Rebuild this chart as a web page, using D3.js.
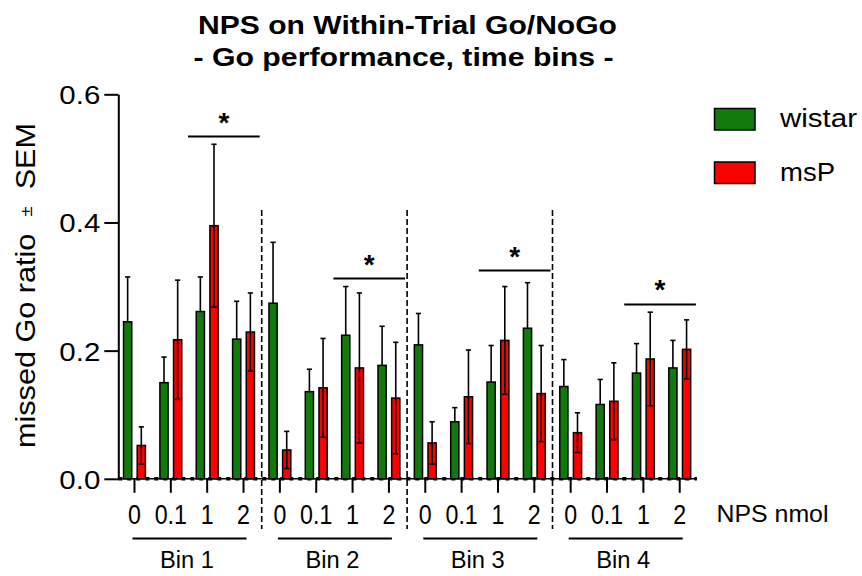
<!DOCTYPE html>
<html>
<head>
<meta charset="utf-8">
<script src="https://cdn.jsdelivr.net/npm/d3@7/dist/d3.min.js"></script>
<style>
  html, body { margin: 0; padding: 0; background: #fff; }
  svg text { font-family: Arial, "Liberation Sans", Helvetica, sans-serif; fill: #000; }
</style>
</head>
<body>
<svg id="chart" width="862" height="576"></svg>
<script>
// ---- data ----
const bins = ["Bin 1", "Bin 2", "Bin 3", "Bin 4"];
const doses = ["0", "0.1", "1", "2"];
const strains = ["wistar", "msP"];

// mean missed Go ratio per bin x dose (bins in order, doses 0, 0.1, 1, 2)
const wistarMean = [0.245, 0.150, 0.261, 0.218,
                    0.274, 0.136, 0.224, 0.177,
                    0.209, 0.089, 0.151, 0.235,
                    0.144, 0.116, 0.165, 0.173];
const wistarSem  = [0.070, 0.040, 0.054, 0.059,
                    0.095, 0.035, 0.076, 0.061,
                    0.049, 0.022, 0.057, 0.071,
                    0.042, 0.039, 0.046, 0.043];
const msPMean    = [0.052, 0.217, 0.395, 0.229,
                    0.045, 0.142, 0.173, 0.126,
                    0.056, 0.128, 0.216, 0.133,
                    0.072, 0.121, 0.187, 0.202];
const msPSem     = [0.029, 0.093, 0.127, 0.061,
                    0.029, 0.077, 0.117, 0.087,
                    0.033, 0.073, 0.084, 0.075,
                    0.031, 0.060, 0.073, 0.046];

const yTicks = [0, 0.2, 0.4, 0.6];

// significance brackets: each spans the 1 and 2 nmol groups of a bin
const sigBins = ["Bin 1", "Bin 2", "Bin 3", "Bin 4"];
const sigLevel = [0.534, 0.3125, 0.325, 0.272];
const sigDoses = ["1", "2"];

const colors = { wistar: "#127a0c", msP: "#ff0000" };

// ---- build rows ----
const keys = [];
const rows = [];
bins.forEach((b, bi) => doses.forEach((d, di) => {
  const i = bi * doses.length + di;
  const key = b + "|" + d;
  keys.push(key);
  rows.push({ key, bin: b, dose: d, strain: "wistar", mean: wistarMean[i], sem: wistarSem[i] });
  rows.push({ key, bin: b, dose: d, strain: "msP", mean: msPMean[i], sem: msPSem[i] });
}));

// ---- scales ----
const svg = d3.select("#chart");
const x0 = 118.3, x1 = 697.9;
const y = d3.scaleLinear().domain([0, 0.6]).range([478.8, 94.3]);
const x = d3.scaleBand().domain(keys).range([116.3, x1]).padding(0);
const xs = d3.scaleBand().domain(strains).range([0, x.bandwidth()])
  .paddingInner(0.4).paddingOuter(0.53);

// ---- title ----
const title = svg.append("g").attr("font-weight", "bold").attr("font-size", 26).attr("text-anchor", "middle");
title.append("text").attr("x", 407.5).attr("y", 33.5)
  .attr("textLength", 419).attr("lengthAdjust", "spacingAndGlyphs")
  .text("NPS on Within-Trial Go/NoGo");
title.append("text").attr("x", 403.5).attr("y", 65.5)
  .attr("textLength", 420).attr("lengthAdjust", "spacingAndGlyphs")
  .text("- Go performance, time bins -");

// ---- baseline (dashed look of the zero line) ----
svg.append("line").attr("x1", x0).attr("x2", x1 - 1).attr("y1", y(0)).attr("y2", y(0))
  .attr("stroke", "#000").attr("stroke-width", 1.5);
svg.append("line").attr("x1", x0).attr("x2", x1 - 1).attr("y1", y(0)).attr("y2", y(0))
  .attr("stroke", "#000").attr("stroke-width", 3.5).attr("stroke-dasharray", "4,5");

// ---- bin separators ----
for (let b = 1; b < bins.length; b++) {
  const left = x(bins[b - 1] + "|" + doses[doses.length - 1]) + x.bandwidth() / 2;
  const right = x(bins[b] + "|" + doses[0]) + x.bandwidth() / 2;
  const sx = (left + right) / 2;
  svg.append("line").attr("x1", sx).attr("x2", sx).attr("y1", 210).attr("y2", 529)
    .attr("stroke", "#000").attr("stroke-width", 1.6).attr("stroke-dasharray", "6,3");
}

// ---- bars ----
const barG = svg.append("g");
const bx = d => x(d.key) + xs(d.strain);

// error bars (drawn first so the bar outline sits on top of the lower whisker base)
const errG = svg.append("g").attr("stroke", "#000").attr("stroke-width", 1.6);

barG.selectAll("rect").data(rows).join("rect")
  .attr("x", d => bx(d))
  .attr("y", d => y(d.mean))
  .attr("width", xs.bandwidth())
  .attr("height", d => y(0) - y(d.mean))
  .attr("fill", d => colors[d.strain])
  .attr("stroke", "#000").attr("stroke-width", 1.5);

rows.forEach(d => {
  const cx = bx(d) + xs.bandwidth() / 2;
  const top = y(d.mean + d.sem);
  const bottom = d.strain === "msP" ? y(d.mean - d.sem) : y(d.mean);
  errG.append("line").attr("x1", cx).attr("x2", cx).attr("y1", top).attr("y2", bottom);
  errG.append("line").attr("x1", cx - 2.6).attr("x2", cx + 2.6).attr("y1", top).attr("y2", top);
  if (d.strain === "msP") {
    errG.append("line").attr("x1", cx - 2.6).attr("x2", cx + 2.6).attr("y1", bottom).attr("y2", bottom);
  }
});
errG.raise();

// ---- y axis ----
const yAxis = svg.append("g").attr("transform", `translate(${x0},0)`)
  .call(d3.axisLeft(y).tickValues(yTicks).tickFormat(d3.format(".1f"))
    .tickSize(14).tickSizeOuter(0).tickPadding(4));
yAxis.select(".domain").attr("stroke-width", 2);
yAxis.selectAll(".tick line").attr("stroke-width", 2);
yAxis.selectAll(".tick text")
  .attr("font-size", 26).attr("font-family", null)
  .attr("textLength", 41).attr("lengthAdjust", "spacingAndGlyphs")
  .attr("dy", "0.36em");

// ---- x axis ----
const xAxis = svg.append("g").attr("transform", `translate(0,${y(0)})`)
  .call(d3.axisBottom(x).tickFormat(k => k.split("|")[1])
    .tickSize(14).tickSizeOuter(0).tickPadding(12));
xAxis.select(".domain").remove();
xAxis.selectAll(".tick line").attr("stroke-width", 2);
xAxis.selectAll(".tick text")
  .attr("font-size", 27).attr("font-family", null)
  .attr("transform", "scale(0.86,1)")
  .attr("x", function () { return 0; });
// keep labels centred on ticks while condensed horizontally
xAxis.selectAll(".tick").each(function () {
  const t = d3.select(this);
  t.select("text").attr("transform", "scale(0.86,1)");
});

// ---- dose axis title ----
svg.append("text").attr("x", 716.5).attr("y", 521.5).attr("font-size", 24)
  .attr("textLength", 112).attr("lengthAdjust", "spacingAndGlyphs")
  .text("NPS nmol");

// ---- bin group underlines and labels ----
bins.forEach(b => {
  const first = x(b + "|" + doses[0]) + x.bandwidth() / 2;
  const last = x(b + "|" + doses[doses.length - 1]) + x.bandwidth() / 2;
  svg.append("line").attr("x1", first - 2).attr("x2", last + 3)
    .attr("y1", 538.5).attr("y2", 538.5).attr("stroke", "#000").attr("stroke-width", 2);
  svg.append("text").attr("x", (first + last) / 2 - 2).attr("y", 568)
    .attr("font-size", 23).attr("text-anchor", "middle")
    .attr("textLength", 54).attr("lengthAdjust", "spacingAndGlyphs")
    .text(b);
});

// ---- significance brackets ----
sigBins.forEach((b, i) => {
  const xa = x(b + "|" + sigDoses[0]) - 1;
  const xb = x(b + "|" + sigDoses[sigDoses.length - 1]) + x.bandwidth() - 2;
  const ly = y(sigLevel[i]);
  svg.append("line").attr("x1", xa).attr("x2", xb).attr("y1", ly).attr("y2", ly)
    .attr("stroke", "#000").attr("stroke-width", 2);
  svg.append("text").attr("x", (xa + xb) / 2).attr("y", ly - 5)
    .attr("text-anchor", "middle").attr("font-size", 28).attr("font-weight", "bold")
    .text("*");
});

// ---- y axis title ----
const yt = svg.append("text")
  .attr("transform", "translate(35,285.5) rotate(-90)")
  .attr("text-anchor", "middle").attr("font-size", 28)
  .attr("textLength", 325).attr("lengthAdjust", "spacingAndGlyphs");
yt.append("tspan").text("missed Go ratio\u00a0\u00a0");
yt.append("tspan").attr("font-size", 17).attr("dy", -3).text("\u00b1");
yt.append("tspan").attr("dy", 3).text("\u00a0\u00a0SEM");

// ---- legend ----
const legend = svg.append("g");
strains.forEach((s, i) => {
  const ly = 108.5 + i * 53.5;
  legend.append("rect").attr("x", 714.5).attr("y", ly).attr("width", 40.5).attr("height", 21.5)
    .attr("fill", colors[s]).attr("stroke", "#000").attr("stroke-width", 1.5);
  legend.append("text").attr("x", 780).attr("y", ly + 18.5).attr("font-size", 26)
    .attr("textLength", s === "wistar" ? 77 : 55).attr("lengthAdjust", "spacingAndGlyphs")
    .text(s);
});
</script>
</body>
</html>
